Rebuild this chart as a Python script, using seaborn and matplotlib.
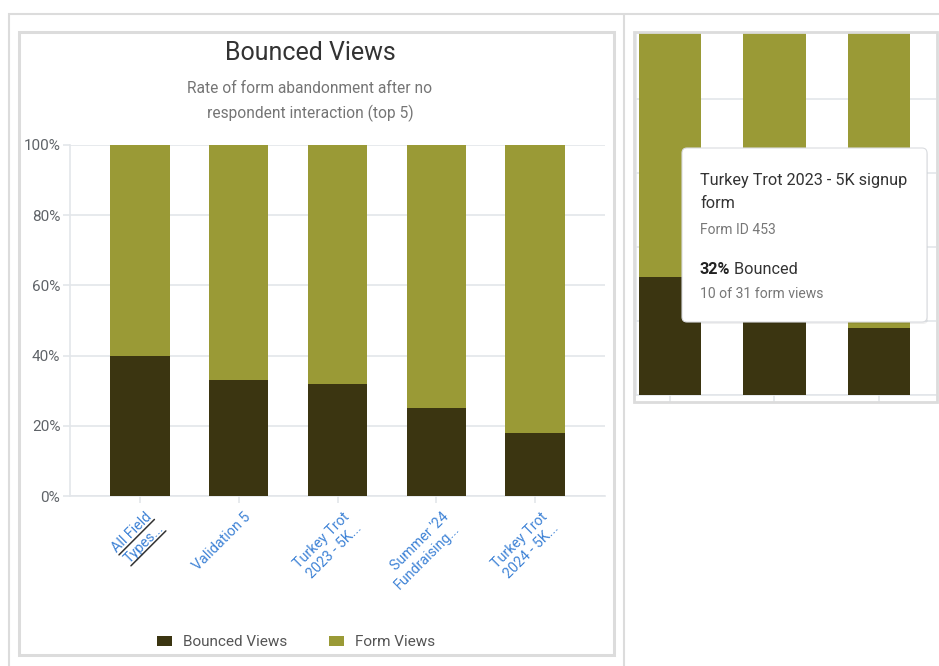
import matplotlib
matplotlib.use("Agg")
import matplotlib.pyplot as plt
import seaborn as sns
import pandas as pd
import numpy as np
from matplotlib.patches import Rectangle, FancyBboxPatch, Patch
from matplotlib.transforms import Affine2D, ScaledTranslation, IdentityTransform
from matplotlib.lines import Line2D

# ---------------- data ----------------
forms = ["All Field Types...", "Validation 5", "Turkey Trot 2023 - 5K...",
         "Summer '24 Fundraising...", "Turkey Trot 2024 - 5K..."]
tick_labels = ["All Field\nTypes...", "Validation 5", "Turkey Trot\n2023 - 5K...",
               "Summer '24\nFundraising...", "Turkey Trot\n2024 - 5K..."]
bounced_pct = [40, 33, 32, 25, 18]
form_views_pct = [60, 67, 68, 75, 82]
y_ticks = [0, 20, 40, 60, 80, 100]
y_tick_labels = ["0%", "20%", "40%", "60%", "80%", "100%"]
series_names = ["Bounced Views", "Form Views"]
title = "Bounced Views"
subtitle_lines = ["Rate of form abandonment after no", "respondent interaction (top 5)"]
tooltip_title = "Turkey Trot 2023 - 5K signup\nform"
tooltip_id = "Form ID 453"
tooltip_pct = "32%"
tooltip_label = " Bounced"
tooltip_counts = "10 of 31 form views"

# ---------------- style ----------------
DARK = "#3b3511"
OLIVE = "#9a9a36"
BLUE = "#3f83d6"
GRID = "#e3e6ea"
FRAME = "#dcdcdc"

sns.set_theme(style="white")
plt.rcParams["font.family"] = ["Roboto", "DejaVu Sans"]

W, H = 939, 666
fig = plt.figure(figsize=(W / 100, H / 100), dpi=100)
fig.patch.set_facecolor("white")
PIX = Affine2D().scale(1, -1).translate(0, H)  # top-left origin pixel coords


def axes_rect(x0, y0, x1, y1):
    return [x0 / W, (H - y1) / H, (x1 - x0) / W, (y1 - y0) / H]


df = pd.DataFrame({"form": forms, "bounced": bounced_pct, "form_views": form_views_pct})
df["total"] = df["bounced"] + df["form_views"]


def draw_bars(ax):
    sns.barplot(data=df, x="form", y="total", color=OLIVE, saturation=1, width=0.6,
                errorbar=None, ax=ax, linewidth=0, zorder=2)
    sns.barplot(data=df, x="form", y="bounced", color=DARK, saturation=1, width=0.6,
                errorbar=None, ax=ax, linewidth=0, zorder=3)
    ax.set_xlabel("")
    ax.set_ylabel("")
    ax.set_axisbelow(True)
    ax.yaxis.grid(True, color=GRID, linewidth=1.2)
    ax.set_yticks(y_ticks)
    ax.set_xticks(range(len(forms)))
    for s in ["top", "right"]:
        ax.spines[s].set_visible(False)
    for s in ["left", "bottom"]:
        ax.spines[s].set_color(GRID)
        ax.spines[s].set_linewidth(1.2)
    ax.set_facecolor("white")


# ---------------- main chart ----------------
ax = fig.add_axes(axes_rect(70, 145, 605, 496))
draw_bars(ax)
ax.set_xlim(-0.707, 4.707)
ax.set_ylim(0, 100)
ax.set_yticklabels(y_tick_labels, fontsize=11, color="#5f6368")
ax.tick_params(axis="y", length=5, width=1.2, color=GRID, pad=2, left=True)
ax.set_xticklabels(tick_labels, rotation=45, ha="right", va="top",
                   rotation_mode="anchor", multialignment="right",
                   fontsize=10.3, color=BLUE)
ax.tick_params(axis="x", length=5, width=1.2, color=GRID, pad=5, bottom=True)
shift = ScaledTranslation(5 / 100, 0, fig.dpi_scale_trans)
for lbl in ax.get_xticklabels():
    lbl.set_transform(lbl.get_transform() + shift)

fig.text(310, 52.5, title, transform=PIX, ha="center", va="center",
         fontsize=18, color="#333333")
fig.text(310, 88.5, subtitle_lines[0], transform=PIX, ha="center", va="center",
         fontsize=11.2, color="#757575")
fig.text(310, 113, subtitle_lines[1], transform=PIX, ha="center", va="center",
         fontsize=11.2, color="#757575")

handles = [Patch(facecolor=DARK, edgecolor="none", label=series_names[0]),
           Patch(facecolor=OLIVE, edgecolor="none", label=series_names[1])]
leg = fig.legend(handles=handles, loc="center", ncol=2, frameon=False,
                 bbox_to_anchor=(296 / W, (H - 642) / H), fontsize=11,
                 handlelength=1.0, handleheight=0.65, handletextpad=0.7,
                 columnspacing=2.7, borderpad=0)
for t in leg.get_texts():
    t.set_color("#555555")

# ---------------- right (zoomed) panel ----------------
ax2 = fig.add_axes(axes_rect(636, 33, 936, 395))
draw_bars(ax2)
ax2.set_xticklabels([])
ax2.set_yticklabels([])
ax2.set_xlim(1.673, 4.548)
ax2.set_ylim(0, 97.8)
ax2.tick_params(axis="x", length=5, width=1.2, color=GRID, bottom=True)
ax2.tick_params(axis="y", length=0)

# tooltip
fig.add_artist(FancyBboxPatch((683, 150), 245, 174, transform=PIX,
                              boxstyle="round,pad=0,rounding_size=5",
                              facecolor="#000000", alpha=0.06, edgecolor="none", zorder=9))
fig.add_artist(FancyBboxPatch((682, 148), 245, 174, transform=PIX,
                              boxstyle="round,pad=0,rounding_size=5",
                              facecolor="white", edgecolor="#dadce0", linewidth=0.8,
                              zorder=10))
fig.text(700, 192, tooltip_title, transform=PIX, ha="left", va="center",
         fontsize=11.7, color="#333333", linespacing=1.72, zorder=11)
fig.text(700, 229.5, tooltip_id, transform=PIX, ha="left", va="center",
         fontsize=10, color="#777777", zorder=11)
t_pct = fig.text(700, 270, tooltip_pct, transform=PIX, ha="left", va="center",
                 fontsize=11.7, color="#222222", fontweight="bold", zorder=11)
fig.add_artist(matplotlib.text.Annotation(tooltip_label, xy=(1, 0.5), xycoords=t_pct,
                                          ha="left", va="center", fontsize=11.7,
                                          color="#333333", zorder=11))
fig.text(700, 294.5, tooltip_counts, transform=PIX, ha="left", va="center",
         fontsize=10.1, color="#777777", zorder=11)

# ---------------- frames ----------------
def hline(x0, x1, y, lw, color=FRAME):
    fig.add_artist(Line2D([x0, x1], [y, y], transform=PIX, color=color, linewidth=lw,
                          solid_capstyle="butt", zorder=20))


def vline(x, y0, y1, lw, color=FRAME):
    fig.add_artist(Line2D([x, x], [y0, y1], transform=PIX, color=color, linewidth=lw,
                          solid_capstyle="butt", zorder=20))


hline(8, W, 13.5, 1.5)
vline(9, 13, H, 1.5)
vline(623.5, 13, H, 1.5)
fig.add_artist(Rectangle((18.5, 32), 595, 622.5, transform=PIX, fill=False,
                         edgecolor=FRAME, linewidth=2.2, zorder=20))
fig.add_artist(Rectangle((634, 32), 302.5, 370, transform=PIX, fill=False,
                         edgecolor=FRAME, linewidth=2.0, zorder=20))

# ---------------- underline on hovered first label ----------------
fig.canvas.draw()
renderer = fig.canvas.get_renderer()
lbl0 = ax.get_xticklabels()[0]
_, info, _ = lbl0._get_layout(renderer)
posx, posy = lbl0.get_transform().transform(lbl0.get_unitless_position())
ang = np.deg2rad(lbl0.get_rotation())
u = np.array([np.cos(ang), np.sin(ang)])
n = np.array([np.sin(ang), -np.cos(ang)])
for line, (w, h), x, y in info:
    start = np.array([posx + x, posy + y]) + n * 2.5
    end = start + u * w
    fig.add_artist(Line2D([start[0], end[0]], [start[1], end[1]],
                          transform=IdentityTransform(), color="#333333",
                          linewidth=1.1, zorder=5))

fig.savefig("out.png", dpi=100, facecolor="white")
